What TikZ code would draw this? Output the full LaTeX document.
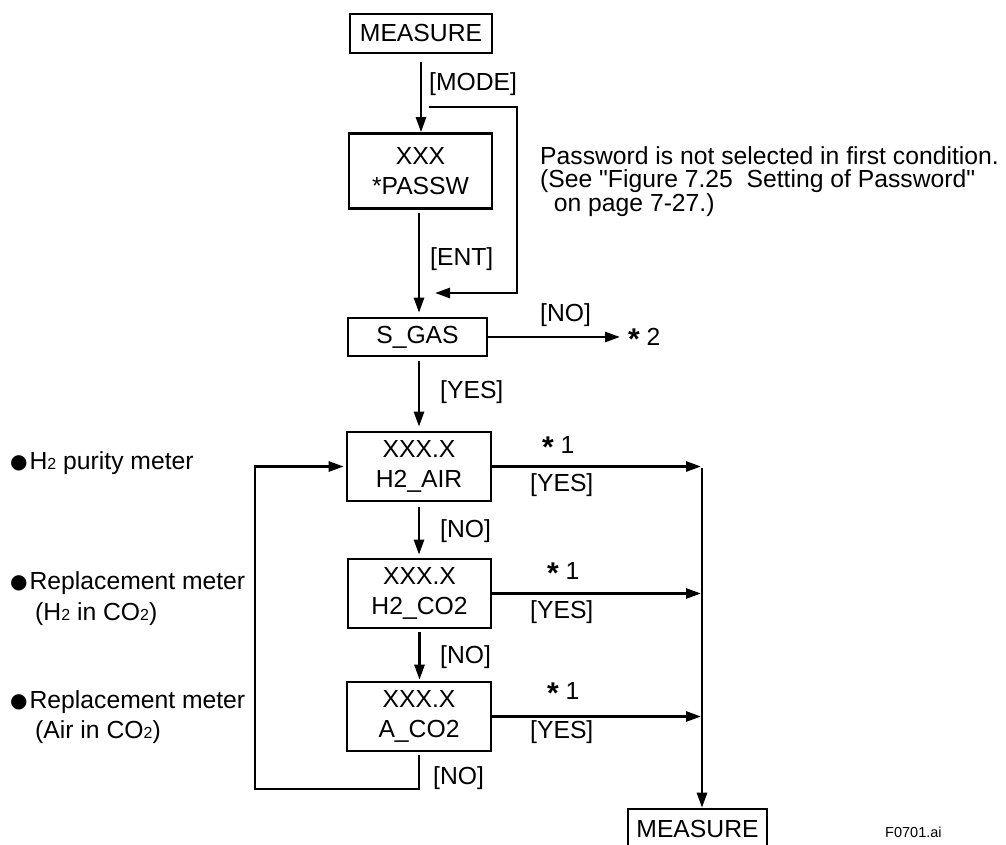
\documentclass[tikz,border=0pt]{standalone}
\usepackage{fontspec}
\setmainfont{Liberation Sans}
\newfontfamily\plainf{Liberation Sans}[Ligatures=TeXOff]
\newfontfamily\symf{DejaVu Sans}
\usetikzlibrary{arrows.meta}
\newcommand\sbt[1]{{\fontsize{16}{16}\selectfont #1}}
\newcommand\starmark{\raisebox{-4pt}{\fontsize{30}{30}\selectfont\bfseries *}}
\newcommand\bul{\raisebox{1pt}{\symf\fontsize{20}{20}\selectfont ●}\hspace{2pt}}
\newcommand\qq{{\plainf "}}
\begin{document}
\begin{tikzpicture}[x=1pt,y=-1pt,
  every node/.style={font=\fontsize{24.7}{30}\selectfont, inner sep=0pt},
  box/.style={draw, line width=2.6pt, align=center},
  lab/.style={anchor=west},
  conn/.style={line width=2.6pt, -{Triangle[length=15pt,width=10pt]}},
  plain/.style={line width=2.6pt}]
\clip (0,0) rectangle (1006,845);
% boxes
\node[box, minimum width=142pt, minimum height=39pt] (m1) at (421,33.5) {MEASURE};
\node[box, minimum width=143pt, minimum height=75pt] (pw) at (420.5,171) {XXX\\*PASSW};
\node[box, minimum width=139pt, minimum height=38pt] (sg) at (417.5,337) {S\_GAS};
\node[box, minimum width=144pt, minimum height=69pt] (ha) at (419,466.5) {XXX.X\\H2\_AIR};
\node[box, minimum width=143pt, minimum height=69pt] (hc) at (419.5,593.5) {XXX.X\\H2\_CO2};
\node[box, minimum width=144pt, minimum height=69pt] (ac) at (419,716.5) {XXX.X\\A\_CO2};
\node[box, minimum width=139pt, minimum height=39pt] (m2) at (697.5,828.5) {MEASURE};
% labels
\node[lab] (lmode) at (429,84) {[MODE]};
\node[lab] (lent) at (430,259) {[ENT]};
\node[lab] (lno0) at (540,315) {[NO]};
\node[lab] (s2) at (628,339) {\starmark\ 2};
\node[lab] (lyes0) at (440,392) {[YES]};
\node[lab] (s1a) at (542,447) {\starmark\ 1};
\node[lab] (lyes1) at (530,485) {[YES]};
\node[lab] (lno1) at (440,531) {[NO]};
\node[lab] (s1b) at (547,573) {\starmark\ 1};
\node[lab] (lyes2) at (530,612) {[YES]};
\node[lab] (lno2) at (440,657) {[NO]};
\node[lab] (s1c) at (547,693) {\starmark\ 1};
\node[lab] (lyes3) at (530,732) {[YES]};
\node[lab] (lno3) at (433,778) {[NO]};
% notes
\node[anchor=north west, align=left, font=\fontsize{24.7}{23}\selectfont] (note) at (540,146)
  {Password is not selected in first condition.\\(See \qq Figure 7.25\ \ Setting of Password\qq\\\ \ on page 7-27.)};
\node[lab] (t1) at (10,463) {\bul H\sbt{2} purity meter};
\node[anchor=north west, align=left, font=\fontsize{24.7}{31}\selectfont] (t2) at (10,571.5)
  {\bul Replacement meter\\\hspace{25pt}(H\sbt{2} in CO\sbt{2})};
\node[anchor=north west, align=left, font=\fontsize{24.7}{30}\selectfont] (t3) at (10,690.5)
  {\bul Replacement meter\\\hspace{25pt}(Air in CO\sbt{2})};
\node[lab, font=\fontsize{14.5}{16}\selectfont] (fig) at (885,832) {F0701.ai};
% connectors
\draw[conn, shorten <=8pt] (m1.south) -- (m1.south |- pw.north);
\coordinate (bs) at (429,107);
\coordinate (be) at (435,293);
\draw[conn] (bs) -- ++(88,0) |- (be);
\draw[conn, shorten <=3pt, shorten >=4pt] (pw.south -| 419,0) -- (419,0 |- sg.north);
\draw[conn, shorten >=8pt] (sg.east) -- (sg.east -| s2.west);
\draw[conn, shorten <=4pt, shorten >=4pt] (419,0 |- sg.south) -- (419,0 |- ha.north);
\coordinate (vt) at (702,468);
\draw[conn] (vt) -- (vt |- m2.north);
\draw[conn, shorten >=1pt] (ha.east) -- (ha.east -| vt);
\draw[conn, shorten >=1pt] (hc.east) -- (hc.east -| vt);
\draw[conn, shorten >=1pt] (ac.east) -- (ac.east -| vt);
\draw[conn, shorten <=5pt, shorten >=3pt] (ha.south) -- (ha.south |- hc.north);
\draw[conn, shorten <=3pt, shorten >=1pt] (hc.south) -- (hc.south |- ac.north);
\coordinate (lp) at (255,789);
\draw[conn, shorten <=3pt, shorten >=2pt] (ac.south) |- (lp) |- (ha.west);
\end{tikzpicture}
\end{document}
